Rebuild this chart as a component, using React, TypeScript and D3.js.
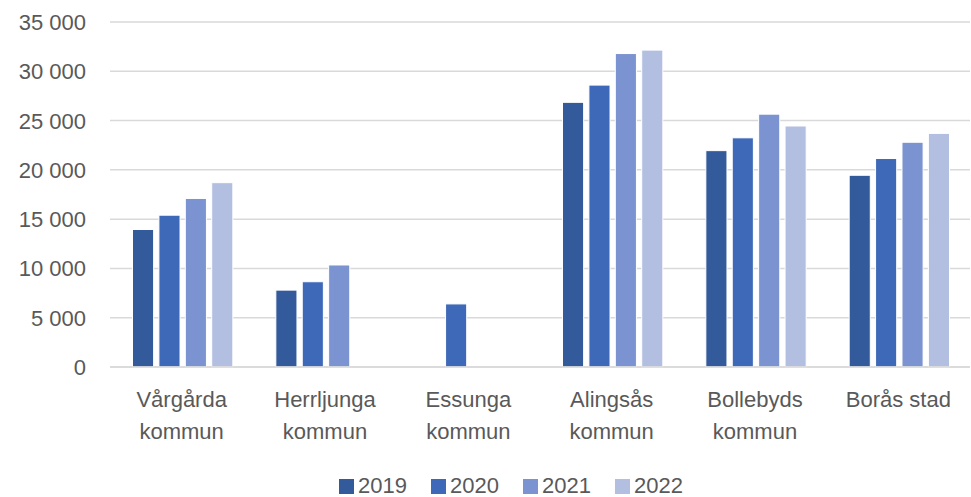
import React from "react";
import * as d3 from "d3";

const categories: string[][] = [
  ["Vårgårda", "kommun"],
  ["Herrljunga", "kommun"],
  ["Essunga", "kommun"],
  ["Alingsås", "kommun"],
  ["Bollebyds", "kommun"],
  ["Borås stad"],
];
const seriesNames = ["2019", "2020", "2021", "2022"];
const values2019: (number | null)[] = [13950, 7800, null, 26850, 21950, 19450];
const values2020: (number | null)[] = [15400, 8650, 6400, 28600, 23250, 21150];
const values2021: (number | null)[] = [17100, 10350, null, 31800, 25650, 22800];
const values2022: (number | null)[] = [18700, null, null, 32150, 24450, 23700];
const yTicks = [0, 5000, 10000, 15000, 20000, 25000, 30000, 35000];
const colors = ["#335A9B", "#3E69B8", "#7B93D0", "#B3BFE0"];

const W = 971;
const H = 497;
const left = 110;
const right = 970;
const top = 22;
const bottom = 367;
const font = "'Liberation Sans', Arial, sans-serif";
const textColor = "#595959";

export default function App() {
  const series = [values2019, values2020, values2021, values2022];
  const catKeys = categories.map((c) => c.join(" "));
  const x0 = d3.scaleBand<string>().domain(catKeys).range([left, right]).padding(0);
  const bw = x0.bandwidth();
  const groupW = bw * 0.7;
  const x1 = d3
    .scaleBand<string>()
    .domain(seriesNames)
    .range([(bw - groupW) / 2 + 1, (bw + groupW) / 2 + 1])
    .paddingInner(0.2);
  const y = d3.scaleLinear().domain([0, 35000]).range([bottom, top]);
  const fmt = (v: number) => d3.format(",")(v).replace(/,/g, " ");

  const legendX = d3.scaleLinear().domain([0, 3]).range([339, 615]);

  return (
    <svg width={W} height={H} style={{ position: "absolute", left: 0, top: 0, background: "#fff" }}>
      <rect x={0} y={0} width={W} height={H} fill="#fff" />
      {yTicks.map((t) => (
        <g key={t}>
          <line x1={left} x2={right} y1={y(t)} y2={y(t)} stroke="#d9d9d9" strokeWidth={1.5} />
          <text
            x={86}
            y={y(t) + 8}
            textAnchor="end"
            fontFamily={font}
            fontSize={22}
            fill={textColor}
          >
            {fmt(t)}
          </text>
        </g>
      ))}
      {series.map((vals, si) =>
        vals.map((v, ci) =>
          v == null ? null : (
            <rect
              key={`${si}-${ci}`}
              x={(x0(catKeys[ci]) as number) + (x1(seriesNames[si]) as number)}
              y={y(v)}
              width={x1.bandwidth()}
              height={y(0) - y(v)}
              fill={colors[si]}
              stroke="#fff"
              strokeWidth={1}
            />
          )
        )
      )}
      <line x1={left} x2={right} y1={y(0)} y2={y(0)} stroke="#d9d9d9" strokeWidth={1.5} />
      {categories.map((lines, ci) => (
        <text
          key={ci}
          x={(x0(catKeys[ci]) as number) + bw / 2}
          y={407}
          textAnchor="middle"
          fontFamily={font}
          fontSize={22}
          fill={textColor}
        >
          {lines.map((l, li) => (
            <tspan key={li} x={(x0(catKeys[ci]) as number) + bw / 2} dy={li === 0 ? 0 : 31.5}>
              {l}
            </tspan>
          ))}
        </text>
      ))}
      {seriesNames.map((s, si) => (
        <g key={s}>
          <rect x={legendX(si)} y={479} width={15} height={15} fill={colors[si]} />
          <text x={legendX(si) + 19} y={493} fontFamily={font} fontSize={22} fill={textColor}>
            {s}
          </text>
        </g>
      ))}
    </svg>
  );
}
